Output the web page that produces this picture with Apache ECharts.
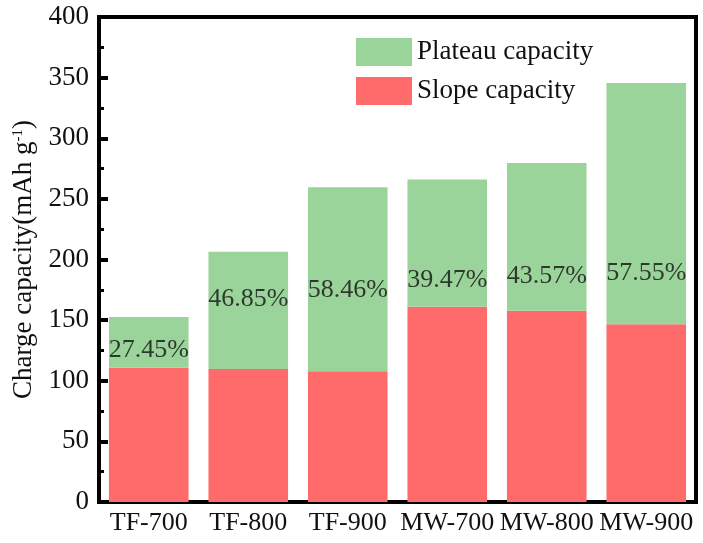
<!DOCTYPE html>
<html>
<head>
<meta charset="utf-8">
<script src="https://cdn.jsdelivr.net/npm/echarts@6/dist/echarts.min.js"></script>
<style>
  html, body { margin: 0; padding: 0; background: #fff; }
  #chart { width: 703px; height: 543px; }
</style>
</head>
<body>
<div id="chart"></div>
<script>
// Samples and their charge capacities (mAh g-1)
const categories = ['TF-700', 'TF-800', 'TF-900', 'MW-700', 'MW-800', 'MW-900'];
const totalCapacity = [152.6, 206.4, 259.5, 266.0, 279.6, 345.5];
// Share of the plateau region in the total capacity (%)
const plateauShare = [27.45, 46.85, 58.46, 39.47, 43.57, 57.55];
// Where each share label sits on the capacity scale
const shareLabelAt = [125, 167, 175, 183, 186, 189];
const yTicks = [0, 50, 100, 150, 200, 250, 300, 350, 400];

const plateau = totalCapacity.map((t, i) => +(t * plateauShare[i] / 100).toFixed(2));
const slope = totalCapacity.map((t, i) => +(t - plateau[i]).toFixed(2));

const FONT = '"Liberation Serif", "Times New Roman", serif';
const GREEN = '#9AD49A';
const RED = '#FF6A6A';

const chart = echarts.init(document.getElementById('chart'), null, { renderer: 'canvas' });
chart.setOption({
  animation: false,
  backgroundColor: '#ffffff',
  grid: {
    left: 99, right: 7, top: 17, bottom: 41,
    show: true, borderColor: '#000', borderWidth: 4, backgroundColor: 'transparent'
  },
  legend: {
    left: 351, top: 33,
    orient: 'vertical',
    icon: 'rect',
    itemWidth: 56, itemHeight: 28, itemGap: 11,
    textStyle: { fontFamily: FONT, fontSize: 27, color: '#111' },
    data: ['Plateau capacity', 'Slope capacity']
  },
  xAxis: [{
    type: 'category',
    data: categories,
    axisLine: { lineStyle: { color: '#000', width: 4 } },
    axisTick: { inside: true, alignWithLabel: true, length: 7, lineStyle: { color: '#000', width: 4 } },
    axisLabel: { fontFamily: FONT, fontSize: 26, color: '#111', margin: 8, interval: 0 }
  }, {
    // boundary ticks between the categories
    type: 'category',
    data: categories,
    position: 'bottom',
    axisLine: { show: false },
    axisTick: { inside: true, length: 3, lineStyle: { color: '#000', width: 3 } },
    axisLabel: { show: false }
  }],
  yAxis: {
    type: 'value',
    min: yTicks[0], max: yTicks[yTicks.length - 1], interval: 50,
    name: '{n|Charge capacity(mAh g}{s|-1}{n|)}',
    nameLocation: 'middle',
    nameGap: 60,
    nameTextStyle: {
      rich: {
        n: { fontFamily: FONT, fontSize: 27, color: '#111' },
        s: { fontFamily: FONT, fontSize: 15, color: '#111', verticalAlign: 'top', padding: [0, 0, 12, 0] }
      }
    },
    axisLine: { show: true, lineStyle: { color: '#000', width: 4 } },
    axisTick: { show: true, inside: true, length: 9, lineStyle: { color: '#000', width: 4 } },
    minorTick: { show: true, splitNumber: 2, length: 5, lineStyle: { color: '#000', width: 3 } },
    splitLine: { show: false },
    axisLabel: { fontFamily: FONT, fontSize: 27, color: '#111', margin: 10 }
  },
  series: [{
    name: 'Slope capacity',
    type: 'bar',
    stack: 'cap',
    barCategoryGap: '20%',
    itemStyle: { color: RED },
    data: slope
  }, {
    name: 'Plateau capacity',
    type: 'bar',
    stack: 'cap',
    itemStyle: { color: GREEN },
    data: plateau
  }, {
    name: 'share',
    type: 'scatter',
    symbolSize: 0,
    silent: true,
    data: categories.map((c, i) => [c, shareLabelAt[i]]),
    label: {
      show: true,
      position: 'inside',
      fontFamily: FONT, fontSize: 26, color: '#111',
      formatter: p => plateauShare[p.dataIndex].toFixed(2) + '%'
    },
    z: 5
  }]
});
</script>
</body>
</html>
